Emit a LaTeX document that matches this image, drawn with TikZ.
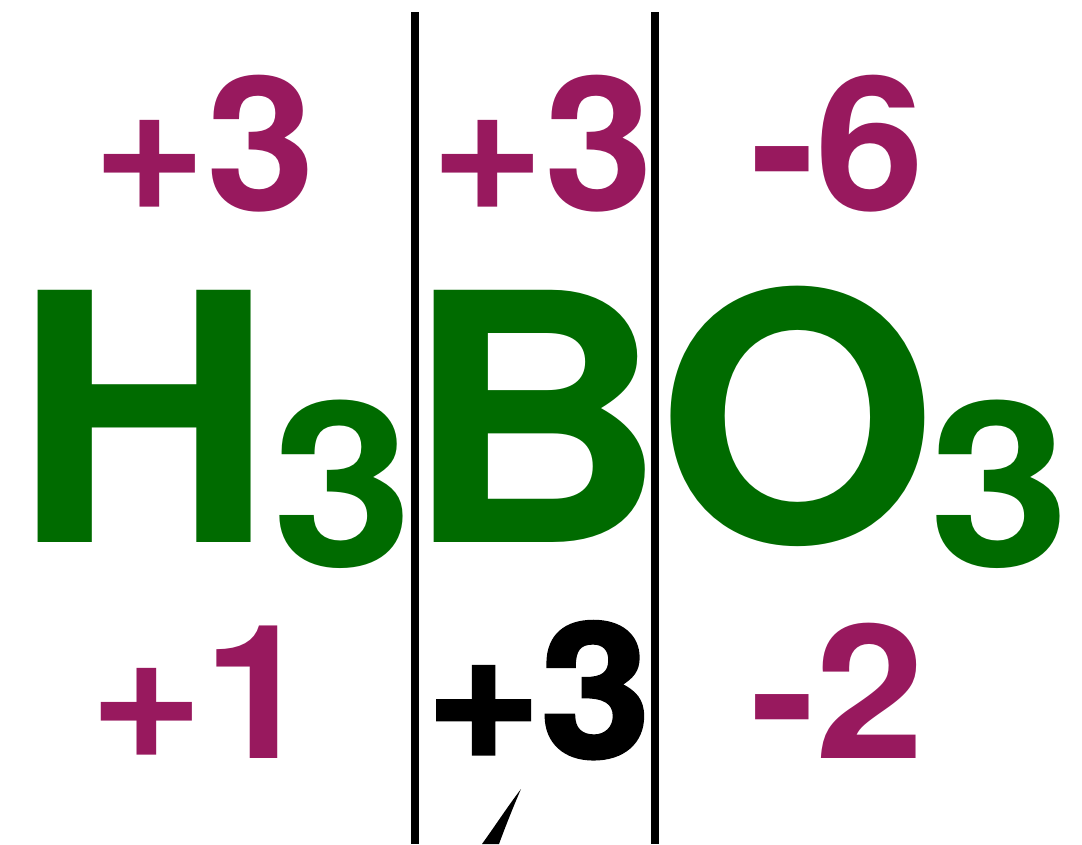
\documentclass[tikz,border=0pt]{standalone}
\usepackage{fontspec}
\setmainfont{TeX Gyre Heros}
\newfontfamily\heavyfont[FakeBold=2]{TeX Gyre Heros}
\definecolor{chemgreen}{RGB}{0,107,0}
\definecolor{oxmag}{RGB}{152,25,94}
\begin{document}
\begin{tikzpicture}[x=1pt,y=-1pt,
  num/.style={inner sep=0pt,anchor=base west,xscale=1.05,text=oxmag,font=\fontsize{187}{187}\selectfont\bfseries},
  heavynum/.style={num,text=black,font=\fontsize{187}{187}\heavyfont\bfseries},
  elem/.style={inner sep=0pt,anchor=base west,xscale=1.045,text=chemgreen,font=\fontsize{346}{346}\selectfont\bfseries},
  sub/.style={inner sep=0pt,anchor=base west,xscale=1.1,text=chemgreen,font=\fontsize{230}{230}\selectfont\bfseries},
  sep/.style={line width=8pt,black}]
\useasboundingbox (0,0) rectangle (1082,844);
% top oxidation sums
\node[num] (t1) at (92,210) {+3};
\node[num] (t2) at (430,210) {+3};
\node[num] (t3) at (750,210) {-6};
% formula
\node[elem] (h) at (13,542) {H};
\node[sub] (h3) at (272,566) {3};
\node[elem] (b) at (404,542) {B};
\node[elem] (o) at (656,542) {O};
\node[sub] (o3) at (929,566) {3};
% bottom oxidation states
\node[num] (b1) at (89,758) {+1};
\node[heavynum] (b2) at (426,757) {+3};
\node[num] (b3) at (750,758) {-2};
% separators
\coordinate (s1t) at (415,12);
\coordinate (s1b) at (415,844);
\coordinate (s2t) at (655,12);
\coordinate (s2b) at (655,844);
\draw[sep] (s1t) -- (s1b);
\draw[sep] (s2t) -- (s2b);
% check mark stroke (cut off)
\fill[black] (521,789) .. controls (514,805) and (506,825) .. (499,844) -- (482,844) .. controls (495,826) and (508,806) .. (521,789) -- cycle;
\end{tikzpicture}
\end{document}
